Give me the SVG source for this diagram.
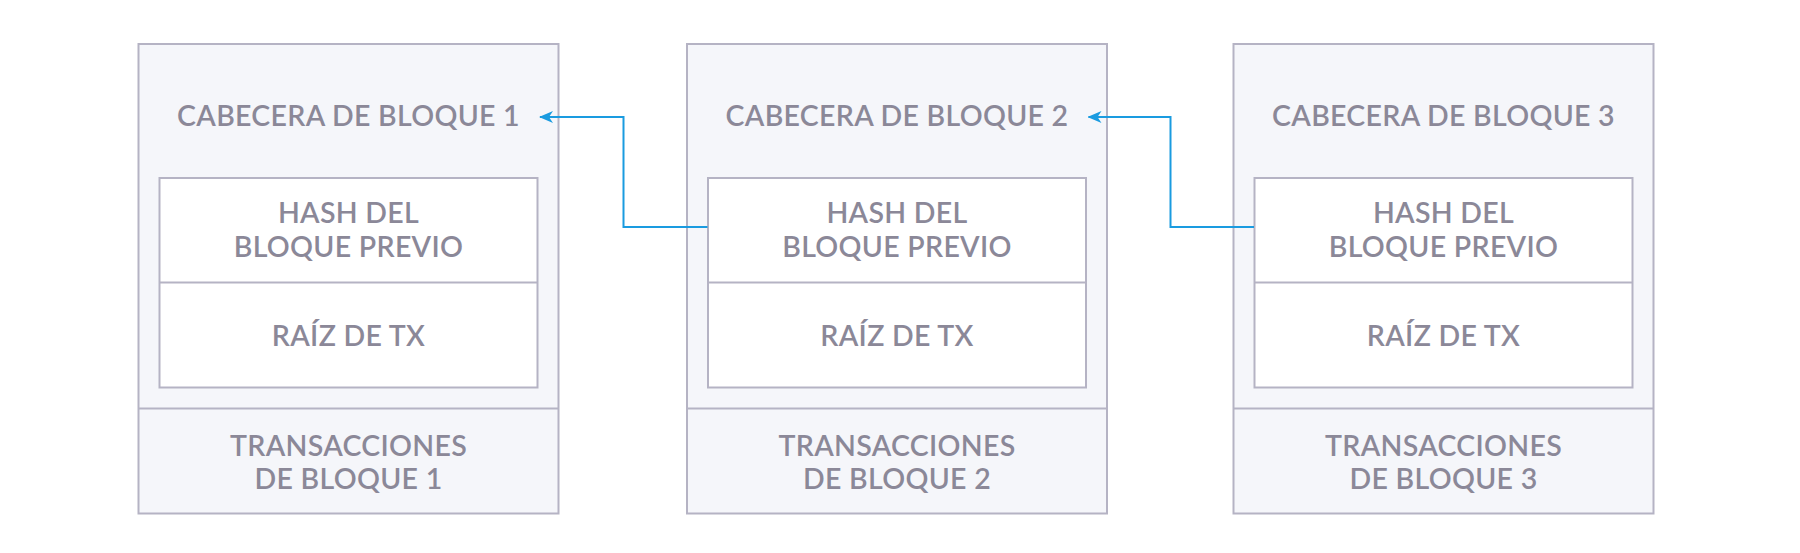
<svg xmlns="http://www.w3.org/2000/svg" width="1800" height="553" viewBox="0 0 1800 553">
  <defs>
    <style>
      .outer { fill: #f5f6fa; stroke: #b5b3c4; stroke-width: 2; }
      .inner { fill: #ffffff; stroke: #b5b3c4; stroke-width: 2; }
      .div { stroke: #b5b3c4; stroke-width: 2; fill: none; }
      .lbl { font-family: Lato, "Liberation Sans", sans-serif; font-size: 28.5px; font-weight: 600; fill: #8b8898; text-anchor: middle; letter-spacing: 0.3px; }
      .conn { fill: none; stroke: #1a9be0; stroke-width: 2; }
    </style>
    <marker id="arrow" viewBox="0 0 14 12" refX="13" refY="6" markerWidth="14" markerHeight="12" markerUnits="userSpaceOnUse" orient="auto">
      <path d="M0,0 L14,6 L0,12 L4,6 Z" fill="#1a9be0"/>
    </marker>
    <g id="blockShape">
      <rect class="outer" x="0" y="44" width="420" height="469.5"/>
      <line class="div" x1="0" y1="408.5" x2="420" y2="408.5"/>
      <rect class="inner" x="21" y="178" width="378" height="209.5"/>
      <line class="div" x1="21" y1="282.5" x2="399" y2="282.5"/>
    </g>
  </defs>
  <rect width="1800" height="553" fill="#ffffff"/>

  <g id="block1" transform="translate(138.5,0)">
    <use href="#blockShape"/>
    <text class="lbl" x="210" y="125.7">CABECERA DE BLOQUE 1</text>
    <text class="lbl" x="210" y="223.3">HASH DEL</text>
    <text class="lbl" x="210" y="257.3">BLOQUE PREVIO</text>
    <text class="lbl" x="210" y="345.7">RAÍZ DE TX</text>
    <text class="lbl" x="210" y="455.7">TRANSACCIONES</text>
    <text class="lbl" x="210" y="489">DE BLOQUE 1</text>
  </g>

  <g id="block2" transform="translate(687,0)">
    <use href="#blockShape"/>
    <text class="lbl" x="210" y="125.7">CABECERA DE BLOQUE 2</text>
    <text class="lbl" x="210" y="223.3">HASH DEL</text>
    <text class="lbl" x="210" y="257.3">BLOQUE PREVIO</text>
    <text class="lbl" x="210" y="345.7">RAÍZ DE TX</text>
    <text class="lbl" x="210" y="455.7">TRANSACCIONES</text>
    <text class="lbl" x="210" y="489">DE BLOQUE 2</text>
  </g>

  <g id="block3" transform="translate(1233.5,0)">
    <use href="#blockShape"/>
    <text class="lbl" x="210" y="125.7">CABECERA DE BLOQUE 3</text>
    <text class="lbl" x="210" y="223.3">HASH DEL</text>
    <text class="lbl" x="210" y="257.3">BLOQUE PREVIO</text>
    <text class="lbl" x="210" y="345.7">RAÍZ DE TX</text>
    <text class="lbl" x="210" y="455.7">TRANSACCIONES</text>
    <text class="lbl" x="210" y="489">DE BLOQUE 3</text>
  </g>

  <g id="connectors">
    <path class="conn" d="M707.5,227 H623.5 V117 H540" marker-end="url(#arrow)"/>
    <path class="conn" d="M1254,227 H1170.5 V117 H1088.5" marker-end="url(#arrow)"/>
  </g>
</svg>
